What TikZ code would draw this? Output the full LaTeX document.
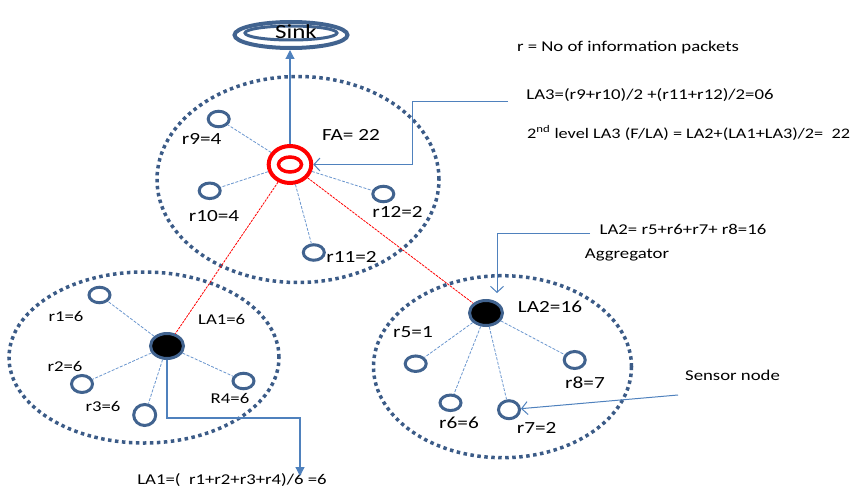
\documentclass[tikz,border=0pt]{standalone}
\usepackage{fontspec}
\setmainfont{Carlito}[FakeStretch=1.25]
\usetikzlibrary{arrows.meta,shapes.geometric}
\definecolor{nodeblue}{HTML}{41638F}
\definecolor{dotblue}{HTML}{3B5B87}
\definecolor{lineblue}{HTML}{4F81BD}
\definecolor{dashblue}{HTML}{6A96CE}
\begin{document}
\begin{tikzpicture}[x=1pt,y=-1pt,
 sensor/.style={ellipse,draw=nodeblue,line width=3pt,minimum width=21pt,minimum height=15.5pt,inner sep=0pt},
 agg/.style={ellipse,draw=nodeblue,fill=black,line width=3pt,minimum width=33pt,minimum height=25pt,inner sep=0pt},
 cluster/.style={draw=dotblue,line width=3.5pt,dash pattern=on 3.5pt off 3.5pt},
 link/.style={draw=dashblue,line width=0.8pt,dash pattern=on 3pt off 1.5pt},
 redlink/.style={draw=red,line width=0.8pt,dash pattern=on 2.5pt off 1pt},
 lbl/.style={font=\fontsize{17}{20}\selectfont,inner sep=0pt},
 note/.style={font=\fontsize{15}{18}\selectfont,inner sep=0pt},
 openarrow/.style={draw=lineblue,line width=1pt,-{Straight Barb[length=6pt,width=13pt]}},
 fullarrow/.style={draw=lineblue,line width=1.2pt,-{Triangle[length=9pt,width=9pt]}}
]
\useasboundingbox (0,0) rectangle (861,487);
% clusters
\draw[cluster] (298,179.5) ellipse [x radius=141pt, y radius=103pt];
\draw[cluster] (144,357.5) ellipse [x radius=135pt, y radius=85.5pt];
\draw[cluster] (502.5,366.7) ellipse [x radius=129pt, y radius=91pt];
% sink
\node[ellipse,draw=nodeblue,line width=4pt,minimum width=113pt,minimum height=26pt,inner sep=0pt] (sink) at (291,35) {};
\node[ellipse,draw=nodeblue,line width=3pt,minimum width=92pt,minimum height=14pt,inner sep=0pt] (sinkin) at (291,33) {};
\node[font=\fontsize{20}{24}\selectfont,inner sep=0pt] (sinktxt) at (296,32) {Sink};
% FA
\node[ellipse,draw=red,line width=4pt,minimum width=42.6pt,minimum height=37pt,inner sep=0pt] (FA) at (290,164.5) {};
\node[ellipse,draw=red,line width=3.5pt,minimum width=23pt,minimum height=15pt,inner sep=0pt] (FAin) at (290,164.5) {};
% aggregators
\node[agg] (LA1) at (167,346) {};
\node[agg] (LA2) at (486,313) {};
% sensors top
\node[sensor] (r9) at (218.7,119) {};
\node[sensor] (r10) at (209.7,190.8) {};
\node[sensor] (r12) at (383.3,194) {};
\node[sensor] (r11) at (313.8,252.5) {};
% sensors left
\node[sensor] (r1) at (99.5,295) {};
\node[sensor,minimum height=17pt] (r2) at (82,384) {};
\node[sensor,minimum width=22pt,minimum height=21pt] (r3) at (144.7,415) {};
\node[sensor] (r4) at (243.5,381) {};
% sensors right
\node[sensor] (r5) at (415.7,363.7) {};
\node[sensor] (r6) at (450.5,402.8) {};
\node[sensor,minimum height=18pt] (r7) at (509,409.7) {};
\node[sensor,minimum height=17pt] (r8) at (574.7,360) {};
% links
\foreach \s in {r9,r10,r11,r12} \draw[link] (FA) -- (\s);
\foreach \s in {r1,r2,r3,r4} \draw[link] (LA1) -- (\s);
\foreach \s in {r5,r6,r7,r8} \draw[link] (LA2) -- (\s);
\draw[redlink] (FA) -- (LA1);
\draw[redlink] (FA) -- (LA2);
% labels
\node[lbl] (t9) at (201.7,139) {r9=4};
\node[lbl] (t10) at (214,216) {r10=4};
\node[lbl] (t12) at (397.5,211.7) {r12=2};
\node[lbl] (t11) at (351.5,256.7) {r11=2};
\node[lbl] (tFA) at (351,135) {FA= 22};
\node[note] (t1) at (66,316.7) {r1=6};
\node[note] (t2) at (65,366.7) {r2=6};
\node[note] (t3) at (103,406.7) {r3=6};
\node[note] (t4) at (230,398) {R4=6};
\node[note] (tLA1) at (221.7,319.3) {LA1=6};
\node[lbl] (t5) at (413,331.7) {r5=1};
\node[lbl] (t6) at (459,423.3) {r6=6};
\node[lbl] (t7) at (536.7,428.3) {r7=2};
\node[lbl] (t8) at (585,382.7) {r8=7};
\node[lbl] (tLA2) at (550,306.7) {LA2=16};
% notes
\node[note] (nr) at (628,48) {r = No of information packets};
\node[note] (nla3) at (650,95) {LA3=(r9+r10)/2 +(r11+r12)/2=06};
\node[note,anchor=west,font=\fontsize{14.6}{18}\selectfont] (nsec) at (527,133) {2\textsuperscript{nd} level LA3 (F/LA) = LA2+(LA1+LA3)/2=~~22};
\node[note] (nla2) at (683,229) {LA2= r5+r6+r7+ r8=16};
\node[note] (nagg) at (627,255) {Aggregator};
\node[note] (nsn) at (732.5,375) {Sensor node};
\node[note] (nla1) at (232,480) {LA1=(~~r1+r2+r3+r4)/6 =6};
% arrows
\draw[fullarrow] (FA.north) -- (FA.north |- sink.south);
\coordinate (la3s) at (508,101);
\coordinate (la3b) at (412,101);
\draw[openarrow] (la3s) -- (la3b) |- (FA.east);
\coordinate (la2s) at (590,233);
\coordinate (la2b) at (497,233);
\coordinate (la2t) at (497,293);
\draw[openarrow] (la2s) -- (la2b) -- (la2t);
\coordinate (sns) at (678,395);
\draw[openarrow] (sns) -- (r7);
\coordinate (la1b) at (300,418);
\coordinate (la1e) at (300,476);
\draw[fullarrow] (LA1.south) |- (la1b) -- (la1e);
\end{tikzpicture}
\end{document}
